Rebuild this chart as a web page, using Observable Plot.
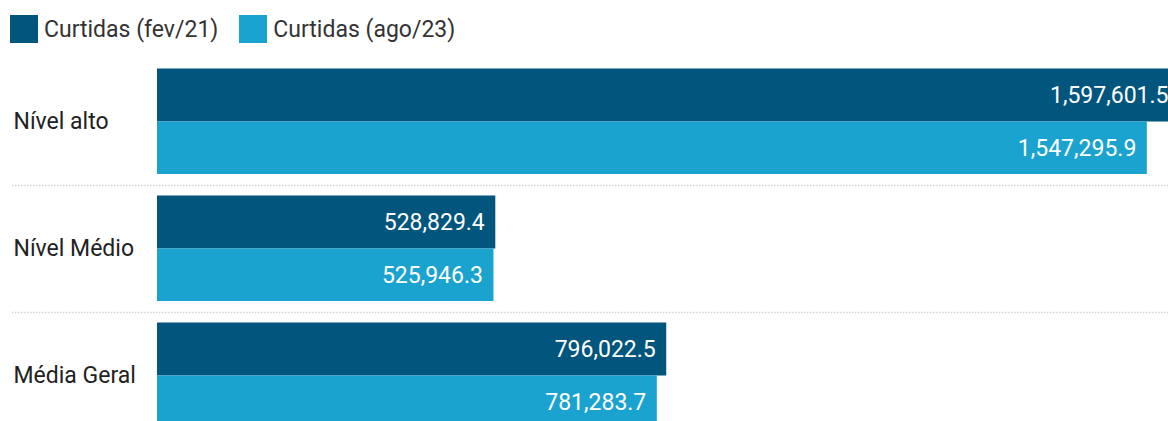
<!DOCTYPE html>
<html>
<head>
<meta charset="utf-8">
<script src="https://cdn.jsdelivr.net/npm/d3@7"></script>
<script src="https://cdn.jsdelivr.net/npm/@observablehq/plot@0.6"></script>
<style>
  html, body { margin: 0; padding: 0; background: #fff; overflow: hidden; }
  body { font-family: Roboto, "Noto Sans", sans-serif; width: 1168px; }
  #legend { box-sizing: border-box; height: 56px; padding: 15px 0 0 10px; display: flex; align-items: flex-start; }
  .item { display: flex; align-items: center; margin-right: 21px; font-size: 23px; color: #333; height: 28px; }
  .swatch { width: 28px; height: 28px; margin-right: 6px; }
  #chart svg { overflow: hidden; display: block; }
</style>
</head>
<body>
<div id="legend"></div>
<div id="chart"></div>
<script>
const categories = ["Nível alto", "Nível Médio", "Média Geral"];
const series = ["Curtidas (fev/21)", "Curtidas (ago/23)"];
const fev21 = [1597601.5, 528829.4, 796022.5];
const ago23 = [1547295.9, 525946.3, 781283.7];
const colors = ["#02557c", "#1ba3cf"];

const rows = [];
categories.forEach((c, i) => {
  rows.push({category: c, series: series[0], value: fev21[i]});
  rows.push({category: c, series: series[1], value: ago23[i]});
});

const legend = document.getElementById("legend");
series.forEach((s, i) => {
  const it = document.createElement("div");
  it.className = "item";
  const sw = document.createElement("span");
  sw.className = "swatch";
  sw.style.background = colors[i];
  const t = document.createElement("span");
  t.textContent = s;
  it.appendChild(sw); it.appendChild(t);
  legend.appendChild(it);
});

const fmt = d3.format(",.1f");

const chart = Plot.plot({
  width: 1168,
  height: 383,
  marginTop: 1.5,
  marginBottom: 0.5,
  marginLeft: 157,
  marginRight: 0,
  style: {fontFamily: "Roboto, sans-serif", background: "#fff", overflow: "hidden"},
  x: {domain: [0, 1580400], axis: null},
  y: {domain: series, padding: 0, axis: null},
  fy: {domain: categories, paddingInner: 21 / 127, paddingOuter: 10.5 / 127, axis: null, label: null},
  color: {domain: series, range: colors},
  marks: [
    Plot.ruleY(categories.slice(0, 2), {
      fy: d => d, y: () => series[1], dy: 37,
      stroke: "#d4d4d4", strokeWidth: 1.5, strokeDasharray: "1.5,1.5",
      insetLeft: -145
    }),
    Plot.barX(rows, {x: "value", y: "series", fy: "category", fill: "series", clip: true}),
    Plot.text(rows, {
      x: "value", y: "series", fy: "category",
      text: d => fmt(d.value), textAnchor: "end", dx: -11,
      fill: "white", fontSize: 23, clip: true
    }),
    Plot.text(categories, {
      fy: d => d, text: d => d, frameAnchor: "left", textAnchor: "start",
      dx: -144, fill: "#222", fontSize: 23
    })
  ]
});
document.getElementById("chart").appendChild(chart);
</script>
</body>
</html>
